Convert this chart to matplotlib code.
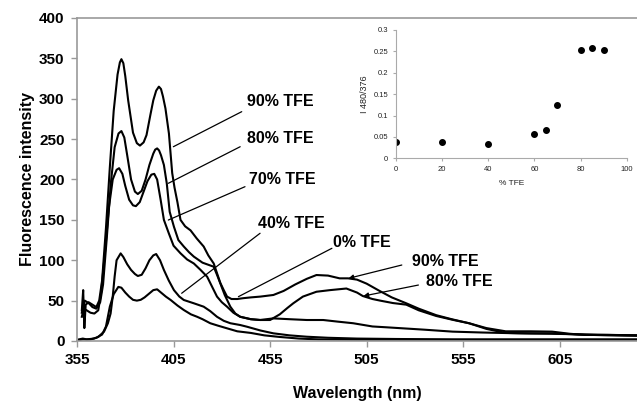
import matplotlib
matplotlib.use("Agg")
import matplotlib.pyplot as plt

plt.rcParams['font.family'] = ['Liberation Sans', 'DejaVu Sans']

# emission spectra (wavelength nm, intensity)
wl_90 = [357.5, 358.2, 358.8, 359.5, 361, 363, 365, 366.5, 368, 370, 372, 374, 376, 377.2,
         378, 379, 380, 381.5, 384, 386, 387.6, 389.5, 391, 393, 394.5, 396, 397.4, 398.5,
         399.5, 400.8, 402.6, 404.3, 405.5, 407, 408.6, 411, 413.8, 417, 420.6, 423, 425.8,
         427.5, 429.2, 431, 432.7, 435, 438, 441, 445, 450, 456.7, 462, 468, 474, 479, 485,
         491, 495.4, 500, 505, 511.7, 518, 525.5, 532, 541, 549, 558, 567, 577, 590, 601,
         610, 618, 630, 645]
int_90 = [38, 63, 16, 45, 48, 45, 42, 50, 75, 140, 215, 285, 330, 345,
          349, 344, 328, 298, 258, 245, 242, 246, 255, 280, 298, 310, 315, 312,
          303, 288, 257, 208, 190, 172, 150, 142, 137, 127, 117, 106, 96,
          84, 72, 63, 55, 52, 52, 53, 54, 55, 57, 62, 70, 77, 81.7, 81,
          77.6, 77.6, 76, 71, 62, 54, 46.7, 40, 32, 27, 22, 16, 12, 12, 11.6,
          9, 7.5, 7.5, 7]

wl_80 = [357.5, 359, 361, 363, 365, 367, 368.5, 370.5, 372.5, 374.5, 376.5, 378, 379.5,
         381, 383, 385, 386.5, 388.5, 390.5, 392.5, 394.5, 395.5, 396.5, 397.5, 398.5, 400,
         401.5, 403, 405.2, 407.5, 410.3, 413, 415.5, 420, 425.8, 427.5, 429.2, 431.5,
         434.4, 437, 439.5, 445, 450, 455, 460, 464, 467, 472, 479, 486, 494.5, 500, 503,
         508, 512, 518.6, 525.5, 532, 541, 550, 558, 567, 577, 590, 601, 615, 630, 645]
int_80 = [35, 50, 47, 42, 40, 48, 70, 130, 195, 240, 257, 260, 252,
          230, 200, 185, 182, 186, 200, 218, 232, 237, 238.5, 236, 230, 218,
          195, 160, 141.5, 125, 117, 110, 104.5, 97, 92, 82, 71.5, 57,
          42.5, 34, 30, 27, 26, 26, 33, 41, 46.7, 55, 61, 63, 65, 60, 55.7,
          52, 50, 47, 45, 38, 31, 26, 22, 15, 10, 9.5, 9.5, 8, 7, 6.5]

wl_70 = [357.5, 358.5, 360, 362, 364, 366, 367.5, 369.5, 371.5, 373.5, 375.5, 376.8,
         378.5, 380, 382, 384, 385.5, 387.5, 389.5, 391.5, 393.5, 395, 396.5, 398.3, 400,
         402.6, 405, 408.6, 412, 415.5, 419, 422.4, 425, 427.5, 430, 432.7, 436, 439.5,
         445, 449.8, 456.6, 465, 474, 482.5, 490, 498, 508, 515, 523.7, 535, 549.5, 565,
         583.8, 600, 620, 645]
int_70 = [30, 40, 38, 35, 34, 38, 60, 110, 165, 200, 212, 214,
          207, 192, 175, 168, 167, 172, 185, 198, 206, 207, 200, 175, 150,
          133, 118, 108.6, 101, 96, 88, 79.6, 67, 55, 48, 42.5, 35, 30,
          27, 26, 28, 27, 26, 26, 24, 22, 18, 17, 15.7, 14, 11.6, 10.5,
          9.5, 9, 8, 7]

wl_40 = [356, 358, 360, 363.7, 366, 369, 371, 372.4, 373.5, 374.5, 375.5, 377.6, 379, 381,
         383, 385, 386.5, 388.5, 390.5, 392.5, 394.5, 396, 398, 400, 402.5, 405.2, 408,
         410.3, 415.5, 420.6, 424, 427.5, 431, 434.4, 439.5, 443, 450, 456.7, 465, 474,
         485, 500, 520, 550, 580, 610, 645]
int_40 = [2, 3, 2, 3, 5, 11.6, 22, 34, 55, 80, 100, 108.5, 104, 95,
          88, 83, 80.5, 82, 90, 100, 106, 107.7, 100, 88, 75, 63, 55,
          50.8, 46.7, 42.5, 37, 30, 25, 22, 19.8, 17.7, 13, 9.5, 7, 5.3,
          4, 3, 2.5, 2, 2, 2, 2]

wl_0 = [356, 358, 362, 365, 368, 370, 372, 374, 376.4, 378, 380, 382, 384, 386, 388, 390,
        392, 394.5, 396.5, 398.5, 401, 403.5, 407, 410.3, 414, 417.2, 420, 424, 428,
        432.7, 438, 445, 452, 460, 470, 480, 500, 530, 570, 610, 645]
int_0 = [1, 2, 2, 4, 8, 18, 42.5, 58, 67, 66, 60, 55, 51, 50, 51, 54,
         58, 63, 64, 60, 55, 50.8, 44, 38.4, 33, 30, 27, 22, 19,
         15.7, 12, 10, 7, 5, 3, 2, 1.5, 1.5, 1.5, 1.5, 1.5]

# inset: I480/I376 ratio vs % TFE
tfe_pct = [0, 20, 40, 60, 65, 70, 80, 85, 90]
ratio = [0.039, 0.037, 0.033, 0.056, 0.066, 0.125, 0.254, 0.257, 0.254]

x_ticks = [355, 405, 455, 505, 555, 605]
y_ticks = [0, 50, 100, 150, 200, 250, 300, 350, 400]
inset_x_ticks = [0, 20, 40, 60, 80, 100]
inset_y_ticks = [0, 0.05, 0.1, 0.15, 0.2, 0.25, 0.3]
inset_y_labels = ["0", "0.05", "0.1", "0.15", "0.2", "0.25", "0.3"]

fig = plt.figure(figsize=(6.37, 4.04), dpi=100)
ax = fig.add_axes([77 / 637, 63 / 404, 560 / 637, 323 / 404])

for wl, inten in [(wl_0, int_0), (wl_40, int_40), (wl_70, int_70),
                  (wl_80, int_80), (wl_90, int_90)]:
    ax.plot(wl, inten, color='black', lw=1.5, solid_joinstyle='round')

ax.set_xlim(355, 645)
ax.set_ylim(0, 400)
ax.set_xticks(x_ticks)
ax.set_yticks(y_ticks)
ax.tick_params(direction='out', length=4, width=1, color='#999999',
               labelsize=11, pad=5)
for lbl in ax.get_xticklabels() + ax.get_yticklabels():
    lbl.set_fontweight('bold')
for s in ['left', 'bottom', 'top']:
    ax.spines[s].set_color('#999999')
    ax.spines[s].set_linewidth(1.2)
ax.spines['right'].set_visible(False)
ax.set_xlabel("Wavelength (nm)", fontsize=11.5, fontweight='bold', labelpad=13)
ax.set_ylabel("Fluorescence intensity", fontsize=11.5, fontweight='bold', labelpad=3)

# leader lines and labels
leaders = [
    ("90% TFE", (404.9, 240.6), (440.3, 284.0), (443.1, 297.2), '-'),
    ("80% TFE", (402.3, 195.3), (439.5, 240.6), (443.1, 250.8), '-'),
    ("70% TFE", (402.3, 149.8), (442.0, 191.1), (444.1, 199.4), '-'),
    ("40% TFE", (409.2, 59.1), (449.8, 133.4), (448.8, 145.5), '-'),
    ("0% TFE", (438.6, 54.9), (487.0, 114.8), (487.6, 121.4), '-'),
    ("90% TFE", (495.6, 77.6), (523.2, 94.1), (528.6, 99.0), '-|>'),
    ("80% TFE", (503.3, 55.7), (531.8, 69.3), (535.8, 74.3), '-|>'),
]
for label, tip, tail, txt, style in leaders:
    ax.annotate('', xy=tip, xytext=tail,
                arrowprops=dict(arrowstyle=style, color='black', lw=0.9,
                                shrinkA=0, shrinkB=0, mutation_scale=7))
    ax.text(txt[0], txt[1], label, fontsize=11.5, fontweight='bold',
            ha='left', va='center')

# inset
ins = fig.add_axes([396 / 637, (404 - 158.3) / 404, 230.7 / 637, 128.3 / 404])
ins.patch.set_alpha(0)
ins.plot(tfe_pct, ratio, 'o', color='black', markersize=4)
ins.set_xlim(0, 100)
ins.set_ylim(0, 0.3)
ins.set_xticks(inset_x_ticks)
ins.set_yticks(inset_y_ticks)
ins.set_yticklabels(inset_y_labels)
ins.tick_params(direction='out', length=2.5, width=0.8, color='#aaaaaa',
                labelsize=5.5, labelcolor='#222222', pad=3)
for s in ['top', 'right']:
    ins.spines[s].set_visible(False)
for s in ['left', 'bottom']:
    ins.spines[s].set_color('#aaaaaa')
    ins.spines[s].set_linewidth(0.8)
ins.set_xlabel("% TFE", fontsize=6, color='#222222', labelpad=5)
ins.set_ylabel("I 480/376", fontsize=6.5, color='#222222', labelpad=3)

fig.savefig("out.png", dpi=100)
